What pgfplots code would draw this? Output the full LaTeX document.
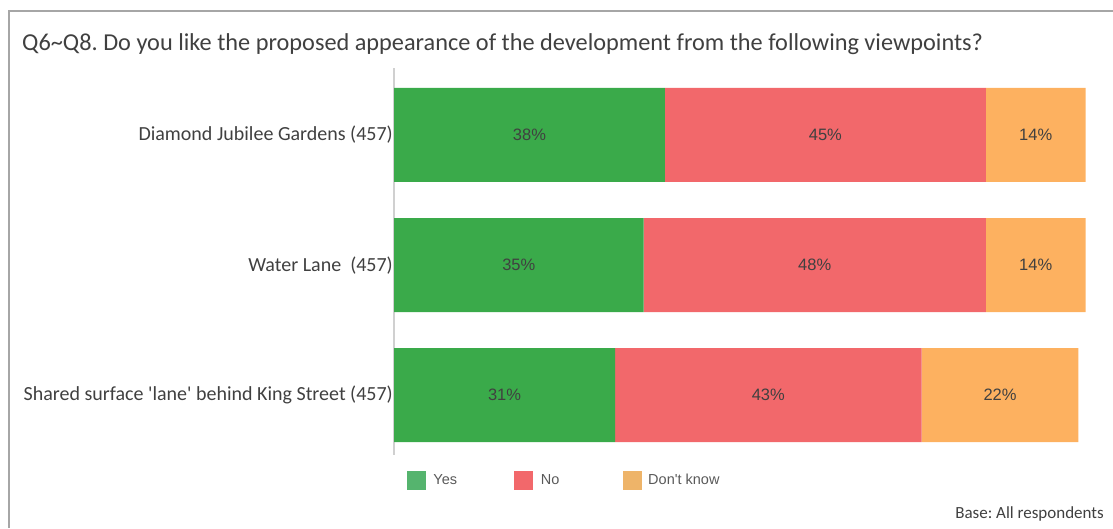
\documentclass[border=0pt]{standalone}
\usepackage{pgfplots}
\pgfplotsset{compat=1.18}
\usepackage{fontspec}
\setmainfont{Carlito}
\newfontfamily\arialfont{Liberation Sans}
\definecolor{cYes}{HTML}{3AAA4A}
\definecolor{cNo}{HTML}{F2686B}
\definecolor{cDK}{HTML}{FDB160}
\definecolor{lYes}{HTML}{55B46E}
\definecolor{lDK}{HTML}{EEB469}
\definecolor{txt}{HTML}{404040}
\definecolor{legtxt}{HTML}{595959}
\definecolor{framec}{HTML}{A6A6A6}
\definecolor{axl}{HTML}{D0D0D0}
\frenchspacing
\begin{document}
\begin{tikzpicture}[x=1pt,y=1pt]
\path[use as bounding box] (0,0) rectangle (1113,528);
\draw[framec, line width=2pt] (9,0) -- (9,517) -- (1114,517);
\node[anchor=west, inner sep=0pt, text=txt, font=\fontsize{24.3}{28}\selectfont] at (22,484)
  {Q6\textasciitilde Q8. Do you like the proposed appearance of the development from the following viewpoints?};
\node[anchor=east, inner sep=0pt, text=txt, font=\fontsize{17}{20}\selectfont] at (1104,14) {Base: All respondents};
\begin{axis}[
  at={(394pt,73pt)}, anchor=south west,
  scale only axis, width=713pt, height=387pt,
  xbar stacked, bar width=94pt,
  xmin=0, xmax=100, ymin=-0.515, ymax=2.46, y dir=reverse,
  axis x line=none, axis y line*=left,
  y axis line style={axl, line width=2pt, -},
  ytick={0,1,2},
  yticklabels={Diamond Jubilee Gardens (457), Water Lane\ \ (457),
    Shared surface \textquotesingle lane\textquotesingle\ behind King Street (457)},
  major tick length=0pt,
  yticklabel style={inner sep=0pt, xshift=-1pt, text=txt, font=\fontsize{20}{24}\selectfont},
  /pgf/number format/assume math mode=true,
  nodes near coords={\pgfmathprintnumber{\pgfplotspointmeta}\%},
  every node near coord/.append style={anchor=center, text=txt,
    font=\arialfont\fontsize{16.5}{18}\selectfont},
  legend style={at={(axis description cs:0.018,-0.0646)}, anchor=west, draw=none, fill=none,
    inner sep=0pt, legend columns=3, font=\arialfont\fontsize{14.5}{17}\selectfont, text=legtxt,
    nodes={inner sep=0pt}, /tikz/every even column/.append style={column sep=0pt}},
  legend cell align=left,
]
\addlegendimage{legend image code/.code={\fill[lYes] (0pt,-9pt) rectangle (18pt,9pt);}}
\addlegendentry{\hspace{8pt}\makebox[81pt][l]{Yes}}
\addlegendimage{legend image code/.code={\fill[cNo] (0pt,-9pt) rectangle (18pt,9pt);}}
\addlegendentry{\hspace{8pt}\makebox[82pt][l]{No}}
\addlegendimage{legend image code/.code={\fill[lDK] (0pt,-9pt) rectangle (18pt,9pt);}}
\addlegendentry{\hspace{7pt}Don\textquotesingle t know}
\addplot[fill=cYes, draw=none, forget plot] coordinates {(38,0) (35,1) (31,2)};
\addplot[fill=cNo, draw=none, forget plot] coordinates {(45,0) (48,1) (43,2)};
\addplot[fill=cDK, draw=none, forget plot] coordinates {(14,0) (14,1) (22,2)};
\end{axis}
\end{tikzpicture}
\end{document}
